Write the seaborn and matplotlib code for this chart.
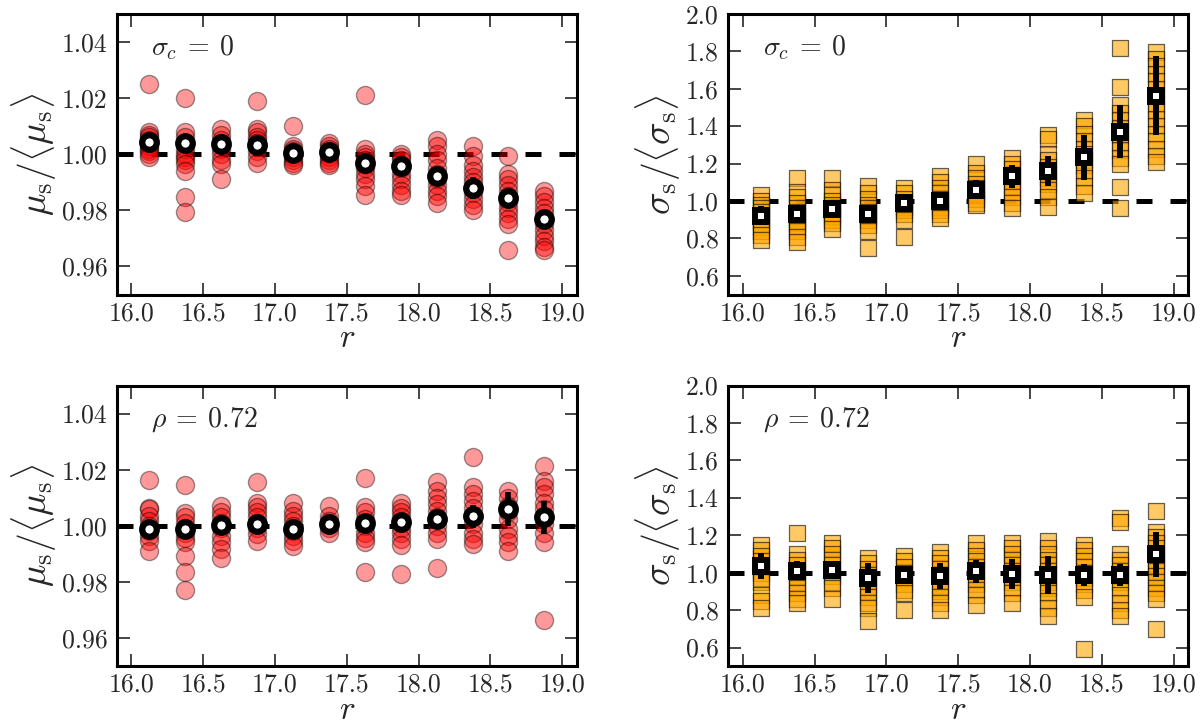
import numpy as np
import pandas as pd
import matplotlib
matplotlib.use("Agg")
import matplotlib.pyplot as plt
import seaborn as sns

# bin centres in r
r_bins = [16.125, 16.375, 16.625, 16.875, 17.125, 17.375,
          17.625, 17.875, 18.125, 18.375, 18.625, 18.875]

# ---- mu_s / <mu_s>, sigma_c = 0 (individual realisations per bin)
mu_top_pts = [
    [1.025, 1.008, 1.007, 1.006, 1.005, 1.004, 1.003, 1.002, 1.001, 1.000, 0.999],
    [1.020, 1.008, 1.006, 1.004, 1.002, 1.000, 0.999, 0.998, 0.9965, 0.994, 0.9846, 0.9795],
    [1.009, 1.007, 1.005, 1.004, 1.002, 1.000, 0.998, 0.9965, 0.991],
    [1.019, 1.009, 1.008, 1.006, 1.005, 1.004, 1.003, 1.001, 0.999, 0.997],
    [1.010, 1.003, 1.002, 1.001, 1.000, 0.999, 0.998, 0.997, 0.996],
    [1.004, 1.003, 1.002, 1.001, 1.000, 0.999, 0.998, 0.997, 0.996],
    [1.021, 1.002, 1.000, 0.999, 0.998, 0.996, 0.995, 0.993, 0.991, 0.9885, 0.9855],
    [1.000, 0.999, 0.998, 0.996, 0.995, 0.993, 0.991, 0.989, 0.987, 0.9855],
    [1.005, 1.003, 1.000, 0.998, 0.995, 0.993, 0.991, 0.989, 0.987, 0.985, 0.9826],
    [1.003, 0.9995, 0.996, 0.994, 0.992, 0.990, 0.988, 0.986, 0.984, 0.982, 0.980],
    [0.9995, 0.993, 0.991, 0.989, 0.987, 0.985, 0.983, 0.981, 0.979, 0.977, 0.975, 0.966],
    [0.987, 0.985, 0.983, 0.981, 0.979, 0.977, 0.975, 0.973, 0.971, 0.969, 0.967, 0.966],
]
mu_top_mean = [1.0043, 1.0040, 1.0036, 1.0031, 1.0005, 1.0007,
               0.9967, 0.9957, 0.9921, 0.9879, 0.9845, 0.9769]
mu_top_err = [0.0012, 0.0015, 0.0012, 0.0012, 0.001, 0.001,
              0.0015, 0.002, 0.003, 0.004, 0.003, 0.003]

# ---- sigma_s / <sigma_s>, sigma_c = 0
sig_top_pts = [
    [1.03, 1.00, 0.98, 0.96, 0.94, 0.92, 0.90, 0.88, 0.86, 0.84, 0.82, 0.79],
    [1.12, 1.05, 1.02, 0.99, 0.96, 0.94, 0.92, 0.90, 0.88, 0.86, 0.84, 0.81, 0.78],
    [1.12, 1.06, 1.03, 1.00, 0.98, 0.96, 0.94, 0.92, 0.90, 0.88, 0.85],
    [1.08, 1.04, 1.01, 0.98, 0.96, 0.94, 0.92, 0.90, 0.87, 0.84, 0.75],
    [1.07, 1.04, 1.01, 0.99, 0.97, 0.95, 0.93, 0.90, 0.81],
    [1.135, 1.10, 1.07, 1.04, 1.01, 0.99, 0.97, 0.95, 0.93, 0.91],
    [1.20, 1.15, 1.12, 1.09, 1.07, 1.05, 1.03, 1.01, 0.99, 0.98],
    [1.23, 1.20, 1.17, 1.14, 1.11, 1.08, 1.05, 1.02, 0.99, 0.96],
    [1.35, 1.33, 1.25, 1.22, 1.18, 1.15, 1.12, 1.09, 1.06, 1.02, 0.97],
    [1.43, 1.40, 1.36, 1.32, 1.28, 1.25, 1.22, 1.19, 1.16, 1.12, 1.08, 1.04],
    [1.816, 1.61, 1.51, 1.47, 1.43, 1.39, 1.35, 1.31, 1.27, 1.23, 1.20, 1.076, 0.962],
    [1.795, 1.76, 1.72, 1.68, 1.64, 1.60, 1.56, 1.52, 1.48, 1.44, 1.40, 1.36, 1.32, 1.28, 1.24, 1.21],
]
sig_top_mean = [0.921, 0.930, 0.957, 0.930, 0.987, 1.001,
                1.060, 1.131, 1.158, 1.233, 1.370, 1.563]
sig_top_err = [0.05, 0.05, 0.05, 0.05, 0.04, 0.04,
               0.05, 0.06, 0.08, 0.12, 0.14, 0.21]

# ---- mu_s / <mu_s>, rho = 0.72
mu_bot_pts = [
    [1.0164, 1.0065, 1.006, 1.0036, 1.0018, 1.000, 0.9982, 0.9964, 0.9946, 0.9911],
    [1.0145, 1.0045, 1.003, 1.0012, 0.9994, 0.9976, 0.9958, 0.9941, 0.9891, 0.9837, 0.9772],
    [1.0071, 1.0048, 1.003, 1.0012, 0.9994, 0.9964, 0.9941, 0.9917, 0.9887],
    [1.0155, 1.0083, 1.0069, 1.0048, 1.003, 1.0012, 0.9994, 0.997, 0.9946],
    [1.0083, 1.0054, 1.0036, 1.0018, 1.000, 0.9982, 0.9964, 0.9946, 0.9929],
    [1.0071, 1.0036, 1.0018, 1.0006, 0.9994, 0.9976],
    [1.017, 1.0068, 1.0048, 1.0024, 1.000, 0.9976, 0.9958, 0.9941, 0.9836],
    [1.0083, 1.0065, 1.0048, 1.003, 1.0012, 0.9994, 0.9976, 0.9952, 0.9931, 0.9828],
    [1.0155, 1.0125, 1.0101, 1.0077, 1.0054, 1.003, 1.000, 0.9976, 0.9952, 0.9851],
    [1.0247, 1.0137, 1.0113, 1.0089, 1.0065, 1.0036, 1.0006, 0.9976, 0.9952, 0.9935],
    [1.0125, 1.0101, 1.0071, 1.0048, 1.0024, 0.9988, 0.9964, 0.9941, 0.9911],
    [1.0214, 1.016, 1.0137, 1.0113, 1.0083, 1.0059, 1.0036, 1.0006, 0.9976, 0.9941, 0.9665],
]
mu_bot_mean = [0.9988, 0.9988, 1.0004, 1.0008, 0.9990, 1.0008,
               1.0010, 1.0015, 1.0024, 1.0034, 1.0060, 1.0030]
mu_bot_err = [0.0012, 0.0012, 0.001, 0.001, 0.001, 0.001,
              0.0015, 0.002, 0.003, 0.004, 0.006, 0.006]

# ---- sigma_s / <sigma_s>, rho = 0.72
sig_bot_pts = [
    [1.15, 1.12, 1.09, 1.06, 1.03, 1.00, 0.97, 0.95, 0.88, 0.85, 0.81],
    [1.21, 1.10, 1.07, 1.04, 1.01, 0.98, 0.95, 0.92, 0.89, 0.86, 0.84],
    [1.16, 1.13, 1.10, 1.07, 1.04, 1.01, 0.98, 0.95, 0.92, 0.86],
    [1.08, 1.05, 1.02, 0.99, 0.96, 0.93, 0.90, 0.87, 0.84, 0.81, 0.74],
    [1.09, 1.06, 1.03, 1.00, 0.97, 0.94, 0.91, 0.89, 0.80],
    [1.11, 1.08, 1.05, 1.02, 0.99, 0.96, 0.93, 0.90, 0.87, 0.84, 0.80],
    [1.16, 1.12, 1.09, 1.06, 1.03, 1.00, 0.97, 0.94, 0.91, 0.88, 0.83],
    [1.16, 1.13, 1.10, 1.07, 1.04, 1.01, 0.98, 0.95, 0.92, 0.89, 0.84],
    [1.17, 1.13, 1.10, 1.07, 1.04, 1.01, 0.98, 0.95, 0.92, 0.89, 0.85, 0.81, 0.77],
    [1.15, 1.12, 1.09, 1.06, 1.03, 1.00, 0.97, 0.94, 0.91, 0.87, 0.59],
    [1.29, 1.27, 1.10, 1.07, 1.04, 1.01, 0.98, 0.95, 0.92, 0.88, 0.84, 0.80, 0.77],
    [1.33, 1.22, 1.19, 1.16, 1.13, 1.10, 1.07, 1.04, 1.01, 0.98, 0.95, 0.92, 0.89, 0.86, 0.70],
]
sig_bot_mean = [1.037, 1.011, 1.014, 0.970, 0.989, 0.984,
                1.007, 0.993, 0.988, 0.989, 0.989, 1.098]
sig_bot_err = [0.07, 0.05, 0.05, 0.08, 0.04, 0.07,
               0.06, 0.08, 0.10, 0.06, 0.06, 0.12]

labels = [r"$\sigma_c\:=\:0$", r"$\rho\:=\:0.72$"]


def to_frame(pts):
    rows = []
    for r, vals in zip(r_bins, pts):
        for v in vals:
            rows.append((r, v))
    return pd.DataFrame(rows, columns=["r", "val"])


sns.set_style("ticks")
plt.rcParams["font.family"] = "serif"
plt.rcParams["font.serif"] = ["cmr10", "DejaVu Serif"]
plt.rcParams["mathtext.fontset"] = "cm"
plt.rcParams["axes.formatter.use_mathtext"] = True
plt.rcParams["axes.unicode_minus"] = False

fig, axes = plt.subplots(2, 2, figsize=(12, 7.25), dpi=100)
fig.subplots_adjust(left=0.0975, right=0.99, top=0.981, bottom=0.081,
                    wspace=0.33, hspace=0.324)

panels = [
    (axes[0, 0], mu_top_pts, mu_top_mean, mu_top_err, "mu", labels[0]),
    (axes[0, 1], sig_top_pts, sig_top_mean, sig_top_err, "sig", labels[0]),
    (axes[1, 0], mu_bot_pts, mu_bot_mean, mu_bot_err, "mu", labels[1]),
    (axes[1, 1], sig_bot_pts, sig_bot_mean, sig_bot_err, "sig", labels[1]),
]

for ax, pts, mean, err, kind, lab in panels:
    df = to_frame(pts)
    ax.axhline(1.0, color="k", lw=3.6, ls=(0, (3.2, 3.6)), zorder=1)
    if kind == "mu":
        sns.scatterplot(data=df, x="r", y="val", ax=ax, color="red", alpha=0.4,
                        edgecolor="k", linewidth=1.0, s=170, marker="o",
                        legend=False, zorder=2)
        ax.errorbar(r_bins, mean, yerr=err, fmt="o", color="k", ecolor="k",
                    elinewidth=4, capsize=0, mfc="white", mec="k",
                    ms=10.5, mew=4.5, zorder=4)
        ax.set_ylim(0.95, 1.05)
        ax.set_yticks([0.96, 0.98, 1.00, 1.02, 1.04])
        ax.set_yticklabels(["0.96", "0.98", "1.00", "1.02", "1.04"])
        ax.set_ylabel(r"$\mu_{\rm s}/\langle\mu_{\rm s}\rangle$", fontsize=27,
                      labelpad=2)
    else:
        sns.scatterplot(data=df, x="r", y="val", ax=ax, color="orange", alpha=0.6,
                        edgecolor="k", linewidth=0.9, s=125, marker="s",
                        legend=False, zorder=2)
        ax.errorbar(r_bins, mean, yerr=err, fmt="s", color="k", ecolor="k",
                    elinewidth=4.3, capsize=0, mfc="white", mec="k",
                    ms=9, mew=4.3, zorder=4)
        ax.set_ylim(0.5, 2.0)
        ax.set_yticks(np.arange(0.6, 2.01, 0.2))
        ax.set_yticklabels(["0.6", "0.8", "1.0", "1.2", "1.4", "1.6", "1.8", "2.0"])
        ax.set_ylabel(r"$\sigma_{\rm s}/\langle\sigma_{\rm s}\rangle$", fontsize=27,
                      labelpad=2)
    ax.set_xlim(15.9, 19.1)
    ax.set_xticks([16.0, 16.5, 17.0, 17.5, 18.0, 18.5, 19.0])
    ax.set_xticklabels(["16.0", "16.5", "17.0", "17.5", "18.0", "18.5", "19.0"])
    ax.set_xlabel(r"$r$", fontsize=24, labelpad=-1)
    ax.text(0.075, 0.88, lab, transform=ax.transAxes, fontsize=20,
            ha="left", va="center")
    ax.tick_params(direction="in", top=True, right=True, length=9, width=1.2,
                   labelsize=18.5)
    ax.tick_params(axis="x", pad=5)
    ax.tick_params(axis="y", pad=7)
    for sp in ax.spines.values():
        sp.set_linewidth(2.2)
        sp.set_color("k")

fig.savefig("out.png", dpi=100)
